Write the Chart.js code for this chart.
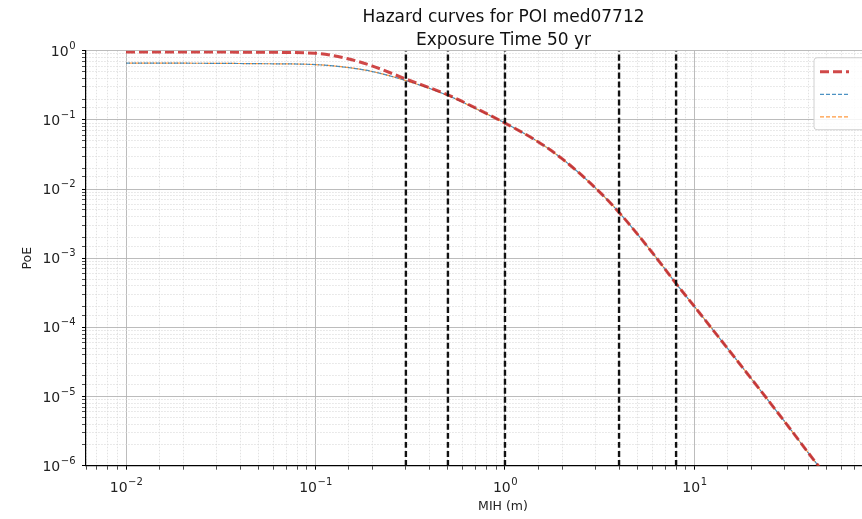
<!DOCTYPE html>
<html>
<head>
<meta charset="utf-8">
<script src="https://cdn.jsdelivr.net/npm/chart.js@4"></script>
<style>
  body { margin: 0; background: #fff; }
  #wrap { width: 862px; height: 519px; overflow: hidden; }
  canvas { display: block; }
</style>
</head>
<body>
<div id="wrap"><canvas id="hazardChart" width="1007" height="519"></canvas></div>
<script>
// MIH values (m) and probability of exceedance
const mih = [0.01, 0.02, 0.05, 0.1, 0.15, 0.2, 0.3, 0.5, 0.75, 1, 1.5, 2, 3, 4, 6, 8, 10, 20, 30, 45, 50];
const poeMean = [0.96, 0.96, 0.95, 0.92, 0.76, 0.60, 0.39, 0.23, 0.135, 0.09, 0.048, 0.0275, 0.0104, 0.0046, 0.0012, 4.3e-4, 2.0e-4, 1.8e-5, 4.3e-6, 1.0e-6, 7e-7];
const poeBlue = [0.66, 0.66, 0.65, 0.63, 0.57, 0.50, 0.37, 0.225, 0.133, 0.09, 0.048, 0.0275, 0.0104, 0.0046, 0.0012, 4.3e-4, 2.0e-4, 1.8e-5, 4.3e-6, 1.0e-6, 7e-7];
const poeOrange = [0.66, 0.66, 0.65, 0.63, 0.57, 0.50, 0.37, 0.225, 0.133, 0.09, 0.048, 0.0275, 0.0104, 0.0046, 0.0012, 4.3e-4, 2.0e-4, 1.8e-5, 4.3e-6, 1.0e-6, 7e-7];
const thresholds = [0.3, 0.5, 1, 4, 8];
const titleLines = ['Hazard curves for POI med07712', 'Exposure Time 50 yr'];
const xLabel = 'MIH (m)';
const yLabel = 'PoE';

function powExp(v) {
    const e = Math.log10(v);
    if (Math.abs(e - Math.round(e)) > 1e-6) return null;
    return Math.round(e);
}
const isMajor = ctx => !ctx.tick || powExp(ctx.tick.value) !== null;

const pts = ys => mih.map((x, i) => ({x: x, y: ys[i]}));

const curveSets = [
    {label: 'mean', data: pts(poeMean), borderColor: 'rgba(200,40,40,0.85)', borderWidth: 3, borderDash: [9, 4]},
    {label: 'blue', data: pts(poeBlue), borderColor: 'rgba(31,119,180,0.8)', borderWidth: 1.2, borderDash: [4, 2]},
    {label: 'orange', data: pts(poeOrange), borderColor: 'rgba(255,127,14,0.8)', borderWidth: 1.2, borderDash: [4, 2], borderDashOffset: 3}
];
const vlineSets = thresholds.map(t => ({
    label: 'thr ' + t,
    data: [{x: t, y: 1e-6}, {x: t, y: 1}],
    borderColor: '#111',
    borderWidth: 2.4,
    borderDash: [6, 3]
}));

// 10^n tick labels with a real raised exponent, placed from the scales
const powTicks = {
    id: 'powTicks',
    afterDraw(chart) {
        const {ctx} = chart;
        const big = '14px "DejaVu Sans"', small = '10px "DejaVu Sans"';
        ctx.save();
        ctx.fillStyle = '#222';
        ctx.textBaseline = 'alphabetic';
        const parts = v => {
            const e = powExp(v);
            if (e === null) return null;
            const ex = String(e).replace('-', '\u2212');
            ctx.font = big; const w1 = ctx.measureText('10').width;
            ctx.font = small; const w2 = ctx.measureText(ex).width;
            return {ex, w1, w2};
        };
        const xs = chart.scales.x;
        xs.ticks.forEach(t => {
            const p = parts(t.value);
            if (!p) return;
            const px = xs.getPixelForValue(t.value);
            const x0 = px - (p.w1 + p.w2) / 2;
            const base = xs.top + 26;
            ctx.font = big; ctx.fillText('10', x0, base);
            ctx.font = small; ctx.fillText(p.ex, x0 + p.w1 + 0.5, base - 7);
        });
        const ys = chart.scales.y;
        ys.ticks.forEach(t => {
            const p = parts(t.value);
            if (!p) return;
            const py = ys.getPixelForValue(t.value);
            const x0 = ys.right - 11 - p.w1 - p.w2;
            const base = py + 5;
            ctx.font = big; ctx.fillText('10', x0, base);
            ctx.font = small; ctx.fillText(p.ex, x0 + p.w1 + 0.5, base - 7);
        });
        ctx.restore();
    }
};

// legend box in the upper right corner (labels are outside the picture)
const legendBox = {
    id: 'legendBox',
    afterDraw(chart) {
        const {ctx, chartArea} = chart;
        const right = chartArea.right - 7, top = chartArea.top + 7;
        const left = right - 99, h = 72;
        ctx.save();
        ctx.fillStyle = 'rgba(255,255,255,0.85)';
        ctx.strokeStyle = '#d0d0d0';
        ctx.lineWidth = 1;
        ctx.beginPath();
        ctx.roundRect(left, top, right - left, h, 3);
        ctx.fill();
        ctx.stroke();
        curveSets.forEach((ds, i) => {
            const y = top + 14 + i * 22.6;
            ctx.strokeStyle = ds.borderColor;
            ctx.lineWidth = ds.borderWidth;
            ctx.setLineDash(ds.borderDash);
            ctx.beginPath();
            ctx.moveTo(left + 6, y);
            ctx.lineTo(left + 35, y);
            ctx.stroke();
        });
        ctx.restore();
    }
};

const gridOpts = {
    color: c => isMajor(c) ? '#b4b4b4' : '#dadada',
    lineWidth: c => isMajor(c) ? 0.9 : 0.8,
    tickColor: '#000',
    tickWidth: c => isMajor(c) ? 1 : 0.7,
    tickLength: 4
};

new Chart(document.getElementById('hazardChart'), {
    type: 'line',
    data: {datasets: [...vlineSets, ...curveSets]},
    options: {
        responsive: false,
        animation: false,
        devicePixelRatio: 1,
        elements: {point: {radius: 0}, line: {tension: 0.4, cubicInterpolationMode: 'monotone'}},
        plugins: {
            legend: {display: false},
            tooltip: {enabled: false},
            title: {
                display: true,
                text: titleLines,
                color: '#111',
                font: {family: 'DejaVu Sans', size: 17, weight: 'normal', lineHeight: 1.36},
                padding: {top: 6, bottom: -1.5}
            }
        },
        scales: {
            x: {
                type: 'logarithmic',
                min: 0.00615,
                max: 155,
                afterFit: s => { s.height = 53.3; },
                grid: gridOpts,
                border: {color: '#000', width: 1.2, dash: c => isMajor(c) ? [] : [1.5, 1.5]},
                ticks: {autoSkip: false, maxRotation: 0, callback: () => ''},
                title: {display: true, text: xLabel, color: '#222', font: {family: 'DejaVu Sans', size: 12.5}, padding: {top: 0, bottom: 4.6}}
            },
            y: {
                type: 'logarithmic',
                min: 1e-6,
                max: 1,
                afterFit: s => { s.width = 86; },
                grid: gridOpts,
                border: {color: '#000', width: 1.2, dash: c => isMajor(c) ? [] : [1.5, 1.5]},
                ticks: {autoSkip: false, callback: () => ''},
                title: {display: true, text: yLabel, color: '#222', font: {family: 'DejaVu Sans', size: 12.5}, padding: {top: 20, bottom: 0}}
            },
            yR: {
                position: 'right',
                type: 'linear',
                afterFit: s => { s.width = 87; },
                grid: {display: false},
                border: {display: false},
                ticks: {display: false}
            }
        }
    },
    plugins: [powTicks, legendBox]
});
</script>
</body>
</html>
